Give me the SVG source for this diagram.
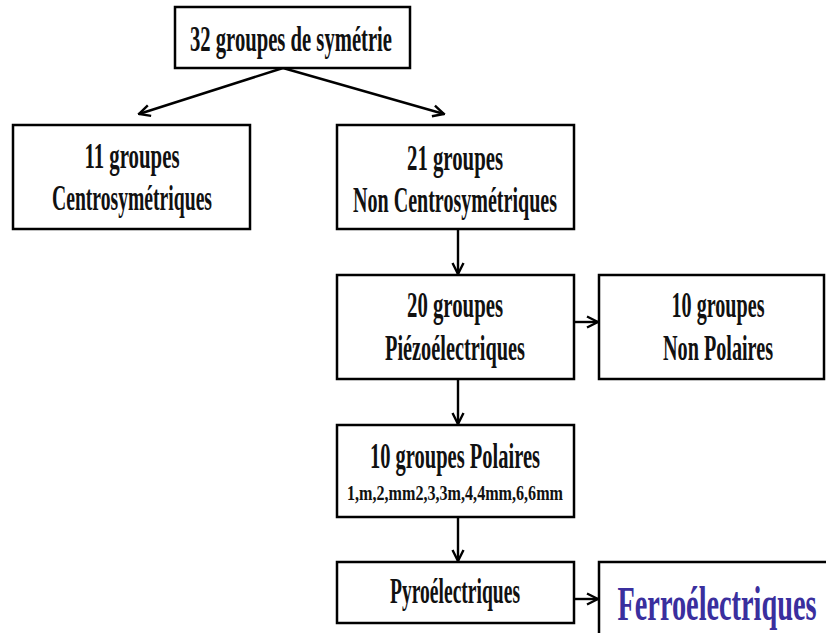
<svg xmlns="http://www.w3.org/2000/svg" width="826" height="633" viewBox="0 0 826 633">
<defs>
<style>
.box{fill:#fff;stroke:#000;stroke-width:2.5}
.t{font-family:"Liberation Serif","Times New Roman",serif;font-weight:bold;font-size:36px;fill:#111;text-anchor:middle}
.s{font-size:21px}
.f{font-size:48px;fill:#3a2f9e}
.c{stroke:#000;stroke-width:2.4;fill:none}
</style>
<marker id="ah" viewBox="0 0 14 14" refX="12.5" refY="7" markerWidth="14" markerHeight="14" markerUnits="userSpaceOnUse" orient="auto">
<path d="M1.5,1.5 L12.5,7 L1.5,12.5" fill="none" stroke="#000" stroke-width="2.4"/>
</marker>
</defs>
<rect width="826" height="633" fill="#fff"/>
<g id="connectors">
<line class="c" x1="283" y1="68" x2="139" y2="114" marker-end="url(#ah)" stroke-width="3"/>
<line class="c" x1="283" y1="68" x2="444" y2="114" marker-end="url(#ah)" stroke-width="3"/>
<line class="c" x1="458" y1="229" x2="458" y2="274" marker-end="url(#ah)"/>
<line class="c" x1="574" y1="322" x2="598" y2="322" marker-end="url(#ah)" stroke-width="3.2"/>
<line class="c" x1="458" y1="379" x2="458" y2="424" marker-end="url(#ah)"/>
<line class="c" x1="458" y1="517" x2="458" y2="561" marker-end="url(#ah)"/>
<line class="c" x1="574" y1="599" x2="598" y2="599" marker-end="url(#ah)" stroke-width="3.2"/>
</g>
<g id="n32">
<rect class="box" x="175" y="7" width="235" height="61"/>
<text class="t" x="291" y="51" textLength="202" lengthAdjust="spacingAndGlyphs">32 groupes de symétrie</text>
</g>
<g id="n11">
<rect class="box" x="13" y="125" width="237" height="104"/>
<text class="t" x="132" y="168" textLength="95" lengthAdjust="spacingAndGlyphs">11 groupes</text>
<text class="t" x="132" y="210" textLength="160" lengthAdjust="spacingAndGlyphs">Centrosymétriques</text>
</g>
<g id="n21">
<rect class="box" x="337" y="125" width="237" height="104"/>
<text class="t" x="455" y="170" textLength="96" lengthAdjust="spacingAndGlyphs">21 groupes</text>
<text class="t" x="455" y="212" textLength="204" lengthAdjust="spacingAndGlyphs">Non Centrosymétriques</text>
</g>
<g id="n20">
<rect class="box" x="337" y="275" width="237" height="104"/>
<text class="t" x="455" y="317" textLength="96" lengthAdjust="spacingAndGlyphs">20 groupes</text>
<text class="t" x="455" y="360" textLength="140" lengthAdjust="spacingAndGlyphs">Piézoélectriques</text>
</g>
<g id="nNonPol">
<rect class="box" x="599" y="275" width="225" height="104"/>
<text class="t" x="718" y="317" textLength="93" lengthAdjust="spacingAndGlyphs">10 groupes</text>
<text class="t" x="718" y="360" textLength="110" lengthAdjust="spacingAndGlyphs">Non Polaires</text>
</g>
<g id="nPol">
<rect class="box" x="337" y="425" width="237" height="92"/>
<text class="t" x="455" y="468" textLength="170" lengthAdjust="spacingAndGlyphs">10 groupes Polaires</text>
<text class="t s" x="455" y="500" textLength="216" lengthAdjust="spacingAndGlyphs">1,m,2,mm2,3,3m,4,4mm,6,6mm</text>
</g>
<g id="nPyro">
<rect class="box" x="337" y="562" width="237" height="61"/>
<text class="t" x="455" y="603" textLength="130" lengthAdjust="spacingAndGlyphs">Pyroélectriques</text>
</g>
<g id="nFerro">
<path class="box" d="M599,640 L599,562 L830,562"/>
<text class="t f" x="717" y="620" textLength="199" lengthAdjust="spacingAndGlyphs">Ferroélectriques</text>
</g>
</svg>
